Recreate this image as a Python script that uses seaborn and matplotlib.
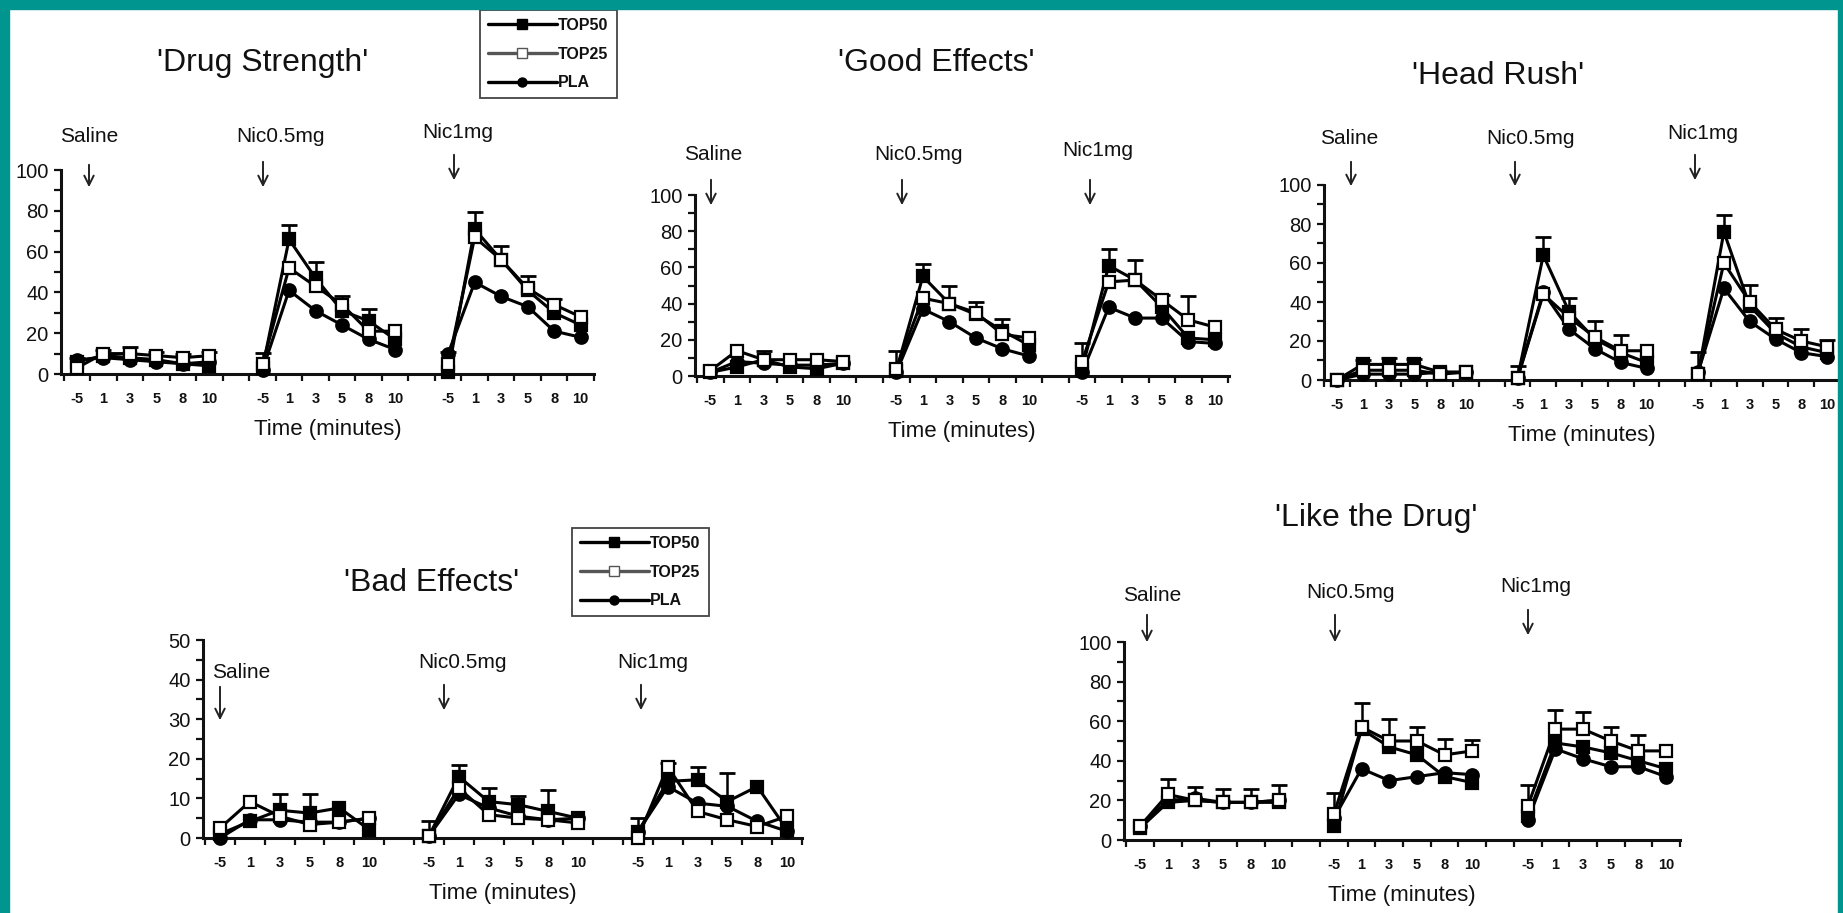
import numpy as np
import pandas as pd
import matplotlib
matplotlib.use("Agg")
import matplotlib.pyplot as plt
import seaborn as sns
from matplotlib.lines import Line2D
from matplotlib.patches import Rectangle, FancyArrowPatch

# ---------------- data ----------------
times = ["-5", "1", "3", "5", "8", "10"]
doses = ["Saline", "Nic0.5mg", "Nic1mg"]
series_names = ["TOP50", "TOP25", "PLA"]
xlabel_text = "Time (minutes)"

# 'Drug Strength'
ds_top50 = [6, 9, 8, 7, 5, 4, 3, 66, 47, 31, 26, 17, 1, 71, 56, 41, 30, 24]
ds_top25 = [3, 10, 10, 9, 8, 9, 5, 52, 43, 34, 21, 21, 5, 67, 56, 42, 34, 28]
ds_pla = [7, 8, 7, 6, 5, 6, 2, 41, 31, 24, 17, 12, 10, 45, 38, 33, 21, 18]
ds_err = [1, 2, 3, 2, 2, 2, 5.5, 7, 8, 4, 6, 0, 1, 8.5, 6.6, 6, 3, 0]

# 'Good Effects'
ge_top50 = [2, 5, 9, 5, 4, 7, 3, 55, 40, 34, 25, 17, 4, 61, 53, 38, 21, 20]
ge_top25 = [3, 14, 9, 9, 9, 8, 4, 43, 40, 35, 23, 21, 8, 52, 53, 42, 31, 27]
ge_pla = [2, 8, 7, 6, 6, 7, 2, 37, 30, 21, 15, 11, 2, 38, 32, 32, 19, 18]
ge_err = [0, 0, 5, 0, 0, 0, 10, 7, 10, 6, 6.5, 0, 10.5, 9, 11, 3, 13, 0]

# 'Head Rush'
hr_top50 = [0, 8, 8, 8, 4, 4, 1, 64, 35, 21, 14, 9, 3, 76, 38, 24, 17, 14]
hr_top25 = [0, 5, 5, 5, 3, 4, 1, 44, 32, 22, 15, 15, 3, 60, 40, 26, 20, 17]
hr_pla = [0, 3, 3, 3, 4, 4, 1, 45, 26, 16, 9, 6, 4, 47, 30, 21, 14, 12]
hr_err = [0, 2, 3.5, 2.6, 0, 0, 6, 9.5, 7, 8, 8, 0, 10.5, 8.6, 8.7, 6, 6, 3.5]

# 'Bad Effects'
be_top50 = [1, 4.2, 7, 6.3, 7.6, 2.1, 0.5, 15.5, 9.2, 8.4, 6.7, 5, 1.5, 14.3, 14.7, 9.2, 13, 2.1]
be_top25 = [2.5, 9.2, 5.5, 3.4, 4, 5, 0.5, 12.6, 5.9, 5, 4.6, 3.8, 0, 18, 6.7, 4.6, 2.9, 5.5]
be_pla = [0, 4.6, 4.6, 4, 4, 5, 0.5, 11, 7.6, 5.5, 4.6, 5, 1.5, 13, 8.8, 8, 4.2, 1.7]
be_err = [0, 0, 4, 4.7, 0, 0, 3.7, 3, 3.4, 2.1, 5.5, 0, 3.5, 1, 3.2, 7.2, 0, 0]

# 'Like the Drug'
ld_top50 = [6, 19, 20, 19, 19, 19, 7, 56, 47, 43, 32, 29, 12, 49, 47, 44, 40, 36]
ld_top25 = [7, 23, 20, 19, 19, 20, 13, 57, 50, 50, 43, 45, 17, 56, 56, 50, 45, 45]
ld_pla = [7, 20, 21, 19, 19, 20, 11, 36, 30, 32, 34, 33, 10, 46, 41, 37, 37, 32]
ld_err = [0, 8, 6, 7, 7, 7.7, 10.5, 12, 11, 7, 8, 5.4, 10.7, 9.5, 8.7, 7, 8, 0]

# ---------------- style ----------------
sns.set_style("ticks")
plt.rcParams["font.family"] = ["Liberation Sans", "DejaVu Sans"]
plt.rcParams["text.color"] = "#111111"
plt.rcParams["axes.labelcolor"] = "#111111"
plt.rcParams["xtick.color"] = "#111111"
plt.rcParams["ytick.color"] = "#111111"

W, H = 1843, 913
fig = plt.figure(figsize=(W / 100, H / 100), dpi=100, facecolor="white")


def fx(x):
    return x / W


def fy(y):
    return 1 - y / H


# positions: 3 dose blocks of 6 time points, one empty slot between blocks
positions = [g * 7 + i for g in range(3) for i in range(6)]

panels = [
    dict(title="'Drug Strength'", data=(ds_top50, ds_top25, ds_pla), err=ds_err, ymax=100, ystep=10,
         rect=(61, 170, 594, 374), xlim=(-0.6, 19.45), title_xy=(263, 63),
         ann=[(89, 137, 89, 162, 190), (281, 137, 263, 159, 190), (458, 132, 454, 152, 183)]),
    dict(title="'Good Effects'", data=(ge_top50, ge_top25, ge_pla), err=ge_err, ymax=100, ystep=10,
         rect=(695, 195, 1229, 376), xlim=(-0.58, 19.53), title_xy=(936, 63),
         ann=[(713, 155, 711, 177, 208), (919, 155, 902, 177, 208), (1098, 150, 1090, 177, 208)]),
    dict(title="'Head Rush'", data=(hr_top50, hr_top25, hr_pla), err=hr_err, ymax=100, ystep=10,
         rect=(1324, 185, 1840, 380), xlim=(-0.42, 19.5), title_xy=(1498, 76),
         ann=[(1349, 138, 1351, 159, 189), (1531, 138, 1515, 159, 189), (1703, 133, 1695, 152, 183)]),
    dict(title="'Bad Effects'", data=(be_top50, be_top25, be_pla), err=be_err, ymax=50, ystep=5,
         rect=(203, 640, 802, 838), xlim=(-0.57, 19.47), title_xy=(432, 583),
         ann=[(241, 672, 220, 684, 723), (462, 663, 444, 682, 713), (653, 663, 641, 682, 713)]),
    dict(title="'Like the Drug'", data=(ld_top50, ld_top25, ld_pla), err=ld_err, ymax=100, ystep=10,
         rect=(1124, 642, 1680, 840), xlim=(-0.58, 19.47), title_xy=(1376, 518),
         ann=[(1152, 595, 1147, 612, 645), (1351, 592, 1335, 612, 645), (1536, 587, 1528, 607, 638)]),
]

styles = {
    "TOP50": dict(marker="s", markerfacecolor="black", markersize=9),
    "TOP25": dict(marker="s", markerfacecolor="white", markersize=8.5),
    "PLA": dict(marker="o", markerfacecolor="black", markersize=9),
}
draw_order = ["PLA", "TOP50", "TOP25"]

for p in panels:
    l, t, r, b = p["rect"]
    ax = fig.add_axes([fx(l), fy(b), (r - l) / W, (b - t) / H])
    ax.set_facecolor("none")

    rows = []
    for name, vals in zip(series_names, p["data"]):
        for k, v in enumerate(vals):
            rows.append(dict(series=name, dose=doses[k // 6], pos=positions[k], value=v))
    df = pd.DataFrame(rows)

    # error bars (upper only) on the highest series
    top = np.maximum.reduce([np.asarray(d, float) for d in p["data"]])
    err = np.asarray(p["err"], float)
    m = err > 0
    pos_arr = np.asarray(positions)
    eb = ax.errorbar(pos_arr[m], top[m], yerr=[np.zeros(m.sum()), err[m]], fmt="none",
                     ecolor="black", elinewidth=1.8, capsize=6, capthick=2, zorder=2)
    eb[1][0].set_visible(False)
    for c in eb[1]:
        c.set_clip_on(False)
    for c in eb[2]:
        c.set_clip_on(False)

    for name in draw_order:
        for dose in doses:
            sub = df[(df["series"] == name) & (df["dose"] == dose)]
            sns.lineplot(data=sub, x="pos", y="value", ax=ax, color="black", lw=2.2,
                         markeredgecolor="black", markeredgewidth=1.6, estimator=None,
                         sort=False, legend=False, clip_on=False, zorder=3, **styles[name])

    ax.set_xlim(*p["xlim"])
    ax.set_ylim(0, p["ymax"])
    sns.despine(ax=ax)
    for s in ("left", "bottom"):
        ax.spines[s].set_linewidth(2.2)
        ax.spines[s].set_color("#111111")

    ax.set_xticks(np.arange(-0.5, 19.6, 1.0))
    ax.set_xticklabels([])
    ax.set_xticks(positions, minor=True)
    ax.set_xticklabels(times * 3, minor=True, fontsize=10.5, fontweight="bold")
    ax.tick_params(axis="x", which="major", direction="out", length=5, width=1.6)
    ax.tick_params(axis="x", which="minor", length=0, pad=13)

    yt = np.arange(0, p["ymax"] + 0.1, p["ystep"])
    ax.set_yticks(yt)
    ax.set_yticklabels([f"{int(v)}" if (v % (2 * p["ystep"]) == 0) else "" for v in yt])
    ax.tick_params(axis="y", direction="out", length=5, width=1.6, labelsize=14.5, pad=4)

    ax.set_xlabel(xlabel_text, fontsize=16, labelpad=9)
    ax.set_ylabel("")

    fig.text(fx(p["title_xy"][0]), fy(p["title_xy"][1]), p["title"], ha="center", va="center",
             fontsize=23)
    for dose, (lx, ly, axx, ay0, ay1) in zip(doses, p["ann"]):
        fig.text(fx(lx), fy(ly), dose, ha="center", va="center", fontsize=15)
        arr = FancyArrowPatch((fx(axx), fy(ay0)), (fx(axx), fy(ay1)), transform=fig.transFigure,
                              arrowstyle="->", mutation_scale=17, lw=1.4, color="#222222")
        fig.add_artist(arr)


# legends
def legend_handles():
    return [
        Line2D([], [], color="black", lw=2.4, marker="s", markerfacecolor="black",
               markeredgecolor="black", markersize=6.5),
        Line2D([], [], color="#555555", lw=2.4, marker="s", markerfacecolor="white",
               markeredgecolor="#555555", markersize=6.5),
        Line2D([], [], color="black", lw=2.4, marker="o", markerfacecolor="black",
               markeredgecolor="black", markersize=6.5),
    ]


for (lx, ly) in [(480, 10), (572, 528)]:
    leg = fig.legend(legend_handles(), series_names, loc="upper left",
                     bbox_to_anchor=(fx(lx), fy(ly)), frameon=True, fancybox=False,
                     edgecolor="#444444", framealpha=1, prop=dict(weight="bold", size=11.5),
                     handlelength=4.3, handletextpad=0.1, labelspacing=0.85, borderpad=0.5,
                     borderaxespad=0)
    leg.get_frame().set_linewidth(1.3)

# teal frame
teal = "#00968F"
fig.add_artist(Rectangle((0, 0), fx(9), 1, transform=fig.transFigure, color=teal, zorder=100))
fig.add_artist(Rectangle((0, fy(9)), 1, 9 / H, transform=fig.transFigure, color=teal, zorder=100))
fig.add_artist(Rectangle((fx(1838), 0), 5 / W, 1, transform=fig.transFigure, color=teal, zorder=100))

fig.savefig("out.png", dpi=100, facecolor="white")
